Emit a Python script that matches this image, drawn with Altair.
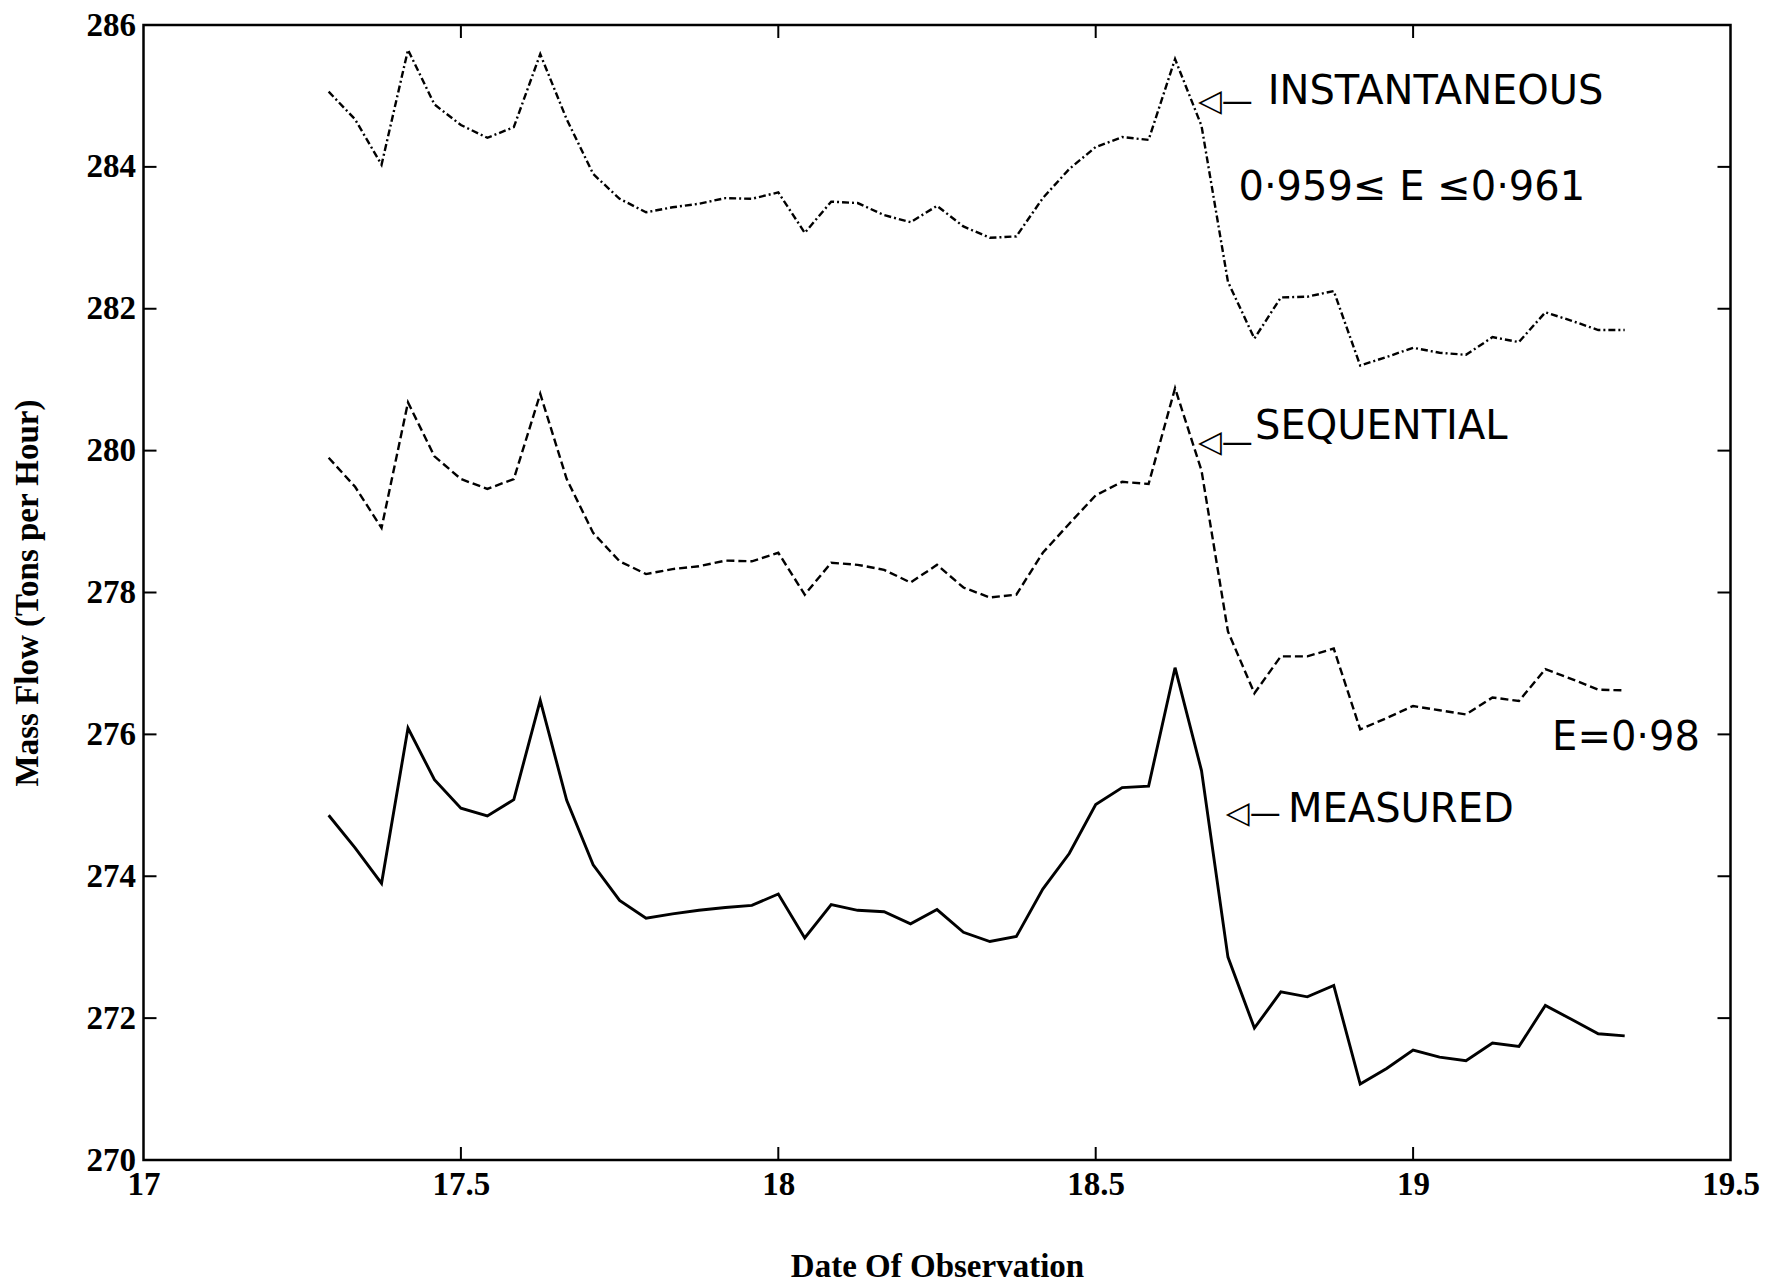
import altair as alt
import pandas as pd

# Hourly observations (hour offsets from the start of day 17)
hours = list(range(7, 57))
days = [17 + h / 24 for h in hours]

measured = [274.86, 274.40, 273.90, 276.09, 275.36, 274.96, 274.85, 275.08, 276.48, 275.07,
            274.16, 273.66, 273.41, 273.47, 273.52, 273.56, 273.59, 273.75, 273.13, 273.60,
            273.52, 273.50, 273.33, 273.53, 273.21, 273.08, 273.15, 273.82, 274.32, 275.01,
            275.25, 275.27, 276.94, 275.49, 272.86, 271.86, 272.37, 272.30, 272.46, 271.07,
            271.29, 271.55, 271.45, 271.40, 271.65, 271.60, 272.18, 271.98, 271.78, 271.75]

sequential = [279.90, 279.49, 278.91, 280.68, 279.92, 279.60, 279.46, 279.60, 280.80, 279.60,
              278.84, 278.44, 278.26, 278.33, 278.37, 278.45, 278.44, 278.56, 277.97, 278.42,
              278.39, 278.32, 278.14, 278.39, 278.07, 277.93, 277.97, 278.56, 278.97, 279.37,
              279.56, 279.53, 280.88, 279.72, 277.45, 276.58, 277.10, 277.10, 277.21, 276.07,
              276.23, 276.40, 276.34, 276.28, 276.52, 276.47, 276.92, 276.78, 276.63, 276.62]

instantaneous = [285.06, 284.67, 284.03, 285.65, 284.88, 284.59, 284.41, 284.56, 285.59, 284.67,
                 283.90, 283.55, 283.36, 283.43, 283.48, 283.56, 283.55, 283.64, 283.07, 283.51,
                 283.49, 283.32, 283.22, 283.45, 283.16, 283.00, 283.02, 283.56, 283.97, 284.28,
                 284.42, 284.38, 285.52, 284.58, 282.38, 281.58, 282.16, 282.17, 282.25, 281.20,
                 281.32, 281.45, 281.38, 281.35, 281.60, 281.53, 281.95, 281.83, 281.70, 281.70]

x_labels = [17, 17.5, 18, 18.5, 19, 19.5]
y_labels = [270, 272, 274, 276, 278, 280, 282, 284, 286]
x_inner_ticks = [17.5, 18, 18.5, 19]
y_inner_ticks = [272, 274, 276, 278, 280, 282, 284]

# Hand-written annotations
arrow_x = [18.661, 18.661, 18.705]
arrow_y = [284.91, 280.11, 274.88]
label_text = ["INSTANTANEOUS", "SEQUENTIAL", "MEASURED", "E=0·98"]
label_x = [18.771, 18.751, 18.803, 19.219]
label_y = [285.05, 280.33, 274.93, 275.95]
range_text = ["0·959≤ E ≤0·961"]
range_x = [18.998]
range_y = [283.70]

W, H = 1587, 1135
TICK = 13

df = pd.DataFrame({
    "day": days * 3,
    "flow": measured + sequential + instantaneous,
    "series": ["Measured"] * len(days) + ["Sequential"] * len(days) + ["Instantaneous"] * len(days),
})

xscale = alt.Scale(domain=[17, 19.5], nice=False, zero=False)
yscale = alt.Scale(domain=[270, 286], nice=False, zero=False)

axis_common = dict(
    ticks=False, domain=False, grid=False, labelOverlap=False, labelFlush=False,
    labelFont="Liberation Serif", labelFontWeight="bold", labelFontSize=33, labelColor="black",
    labelPadding=8, titleFont="Liberation Serif", titleFontWeight="bold", titleFontSize=33,
    titleColor="black",
)

X = alt.X("day:Q", scale=xscale, title="Date Of Observation",
          axis=alt.Axis(values=x_labels, format="~g", titlePadding=49, **axis_common))
Y = alt.Y("flow:Q", scale=yscale, title="Mass Flow (Tons per Hour)",
          axis=alt.Axis(values=y_labels, format="d", titlePadding=42, **axis_common))

base = alt.Chart(df)
line_meas = base.transform_filter(alt.datum.series == "Measured").mark_line(
    color="black", strokeWidth=2.9).encode(x=X, y=Y)
line_seq = base.transform_filter(alt.datum.series == "Sequential").mark_line(
    color="black", strokeWidth=2.4, strokeDash=[8, 4]).encode(x=X, y=Y)
line_inst = base.transform_filter(alt.datum.series == "Instantaneous").mark_line(
    color="black", strokeWidth=2.4, strokeDash=[7, 3, 2, 3]).encode(x=X, y=Y)

xt = alt.Chart(pd.DataFrame({"day": x_inner_ticks}))
yt = alt.Chart(pd.DataFrame({"flow": y_inner_ticks}))
tick_b = xt.mark_rule(color="black", strokeWidth=2).encode(
    x=X, y=alt.value(H), y2=alt.value(H - TICK))
tick_t = xt.mark_rule(color="black", strokeWidth=2).encode(
    x=X, y=alt.value(0), y2=alt.value(TICK))
tick_l = yt.mark_rule(color="black", strokeWidth=2).encode(
    y=Y, x=alt.value(0), x2=alt.value(TICK))
tick_r = yt.mark_rule(color="black", strokeWidth=2).encode(
    y=Y, x=alt.value(W), x2=alt.value(W - TICK))

arrows = alt.Chart(pd.DataFrame({"day": arrow_x, "flow": arrow_y, "t": ["◁—"] * 3})).mark_text(
    align="left", baseline="middle", font="DejaVu Sans", fontSize=31, color="black").encode(
    x=X, y=Y, text="t:N")
labels = alt.Chart(pd.DataFrame({"day": label_x, "flow": label_y, "t": label_text})).mark_text(
    align="left", baseline="middle", font="DejaVu Sans", fontSize=40, color="black").encode(
    x=X, y=Y, text="t:N")
rng = alt.Chart(pd.DataFrame({"day": range_x, "flow": range_y, "t": range_text})).mark_text(
    align="center", baseline="middle", font="DejaVu Sans", fontSize=40, color="black").encode(
    x=X, y=Y, text="t:N")

chart = alt.layer(
    line_meas, line_seq, line_inst, tick_b, tick_t, tick_l, tick_r, arrows, labels, rng
).properties(
    width=W, height=H,
    autosize=alt.AutoSizeParams(type="none"),
    padding={"left": 135.5, "top": 17, "right": 33.5, "bottom": 127},
    background="white",
).configure_view(stroke="black", strokeWidth=2.5)

chart.save("out.html", embed_options={"renderer": "svg", "actions": False})
